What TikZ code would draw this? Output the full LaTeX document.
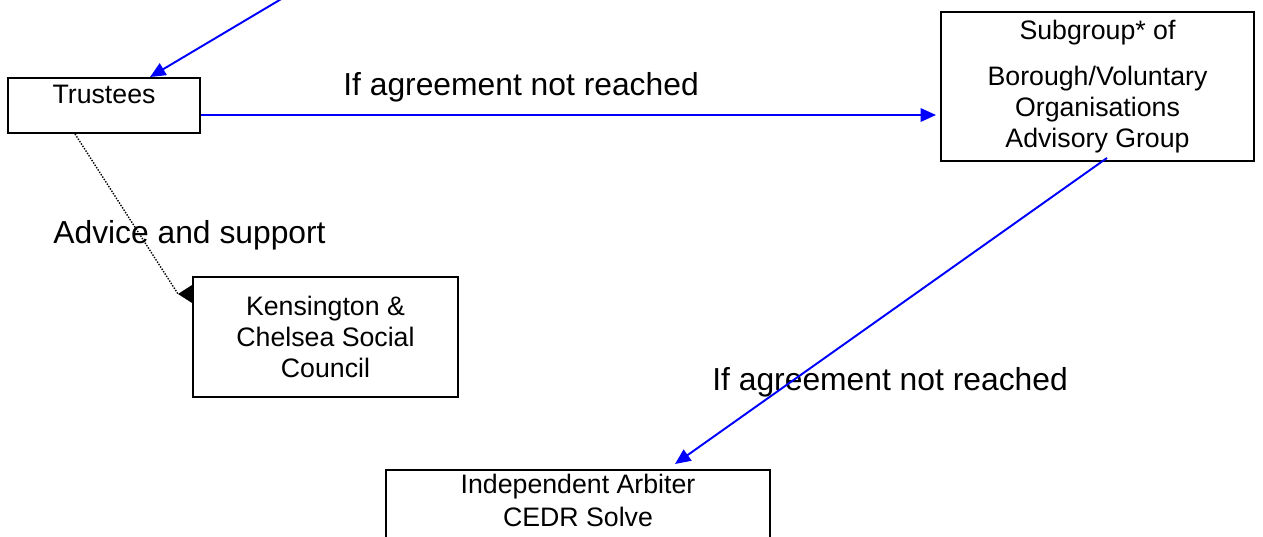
\documentclass[tikz,border=0pt]{standalone}
\usepackage{fontspec}
\setmainfont{Liberation Sans}
\usetikzlibrary{arrows.meta}
\begin{document}
\begin{tikzpicture}[box node/.style={draw,fill=white,line width=1.1pt,inner sep=0pt,align=center,font=\fontsize{15.2pt}{17.4pt}\selectfont},
  box text/.style={inner sep=0pt,align=center,font=\fontsize{15.2pt}{17.4pt}\selectfont},
  label node/.style={inner sep=0pt,anchor=base west,font=\fontsize{18.1pt}{21pt}\selectfont},
  blue link/.style={blue,line width=1.1pt,-{Triangle[length=0.31cm,width=0.27cm]}}]
\useasboundingbox (0,0) rectangle (25.26,-10.74);
\node [box node,text width=3.84cm,text height=0.52cm,text depth=0.58cm] (trustees) at (2.08,-2.11) {Trustees};
\node [box node,minimum width=6.26cm,minimum height=2.98cm] (subgroup) at (21.95,-1.73) {Subgroup* of\\[0.31cm]Borough/Voluntary\\Organisations\\Advisory Group};
\node [box node,minimum width=5.30cm,minimum height=2.40cm] (kensington) at (6.51,-6.74) {Kensington \&\\Chelsea Social\\Council};
\node [box node,minimum width=7.68cm,minimum height=2.4cm,anchor=north] (arbiter) at (11.56,-9.38) {};
\node [box text,anchor=north] (arbiter text) at ([yshift=-0.1cm]arbiter.north) {Independent Arbiter\\[0.05cm]CEDR Solve};
\node [label node] (agree top) at (6.86,-1.92) {If agreement not reached};
\node [label node] (advice) at (1.06,-4.86) {Advice and support};
\node [label node] (agree low) at (14.24,-7.80) {If agreement not reached};
\coordinate (from above) at (5.76,0.10);
\coordinate (advice tip) at ([xshift=-0.28cm,yshift=0.86cm]kensington.west);
% links
\draw [blue link] (from above) -- ([xshift=0.92cm]trustees.north);
\draw [blue link,shorten >=0.08cm] ([yshift=-0.19cm]trustees.east) -- ([yshift=-0.19cm]trustees.east -| subgroup.west);
\draw [blue link] ([xshift=0.19cm,yshift=0.08cm]subgroup.south) -- ([xshift=1.94cm,yshift=0.1cm]arbiter.north);
\draw [line width=0.8pt,dash pattern=on 0.8pt off 0.8pt] ([xshift=-0.58cm]trustees.south) -- (advice tip);
\fill ([yshift=1.04cm]kensington.west) -- ([yshift=0.68cm]kensington.west) -- (advice tip) -- cycle;
\end{tikzpicture}
\end{document}
